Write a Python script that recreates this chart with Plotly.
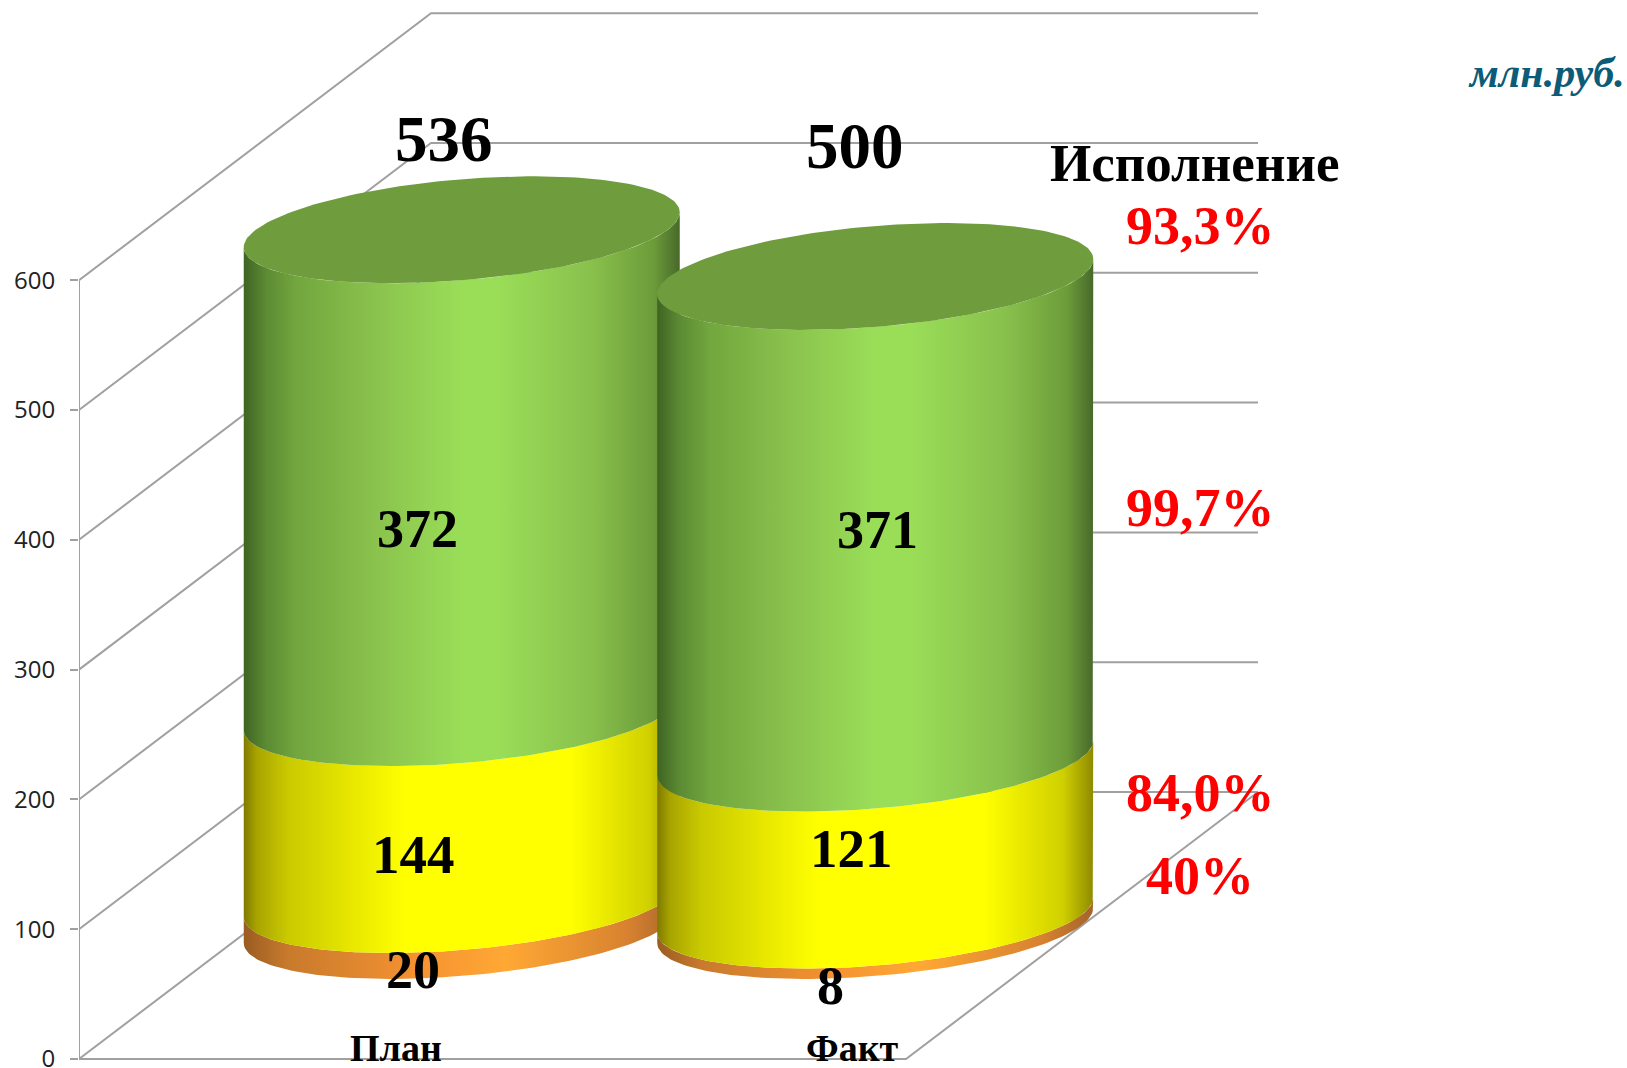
import numpy as np
import plotly.graph_objects as go

# ---- data ----
categories = ["План", "Факт"]
orange = [20, 8]
yellow = [144, 121]
green = [372, 371]
totals = [536, 500]
y_ticks = [0, 100, 200, 300, 400, 500, 600]
heading = "Исполнение"
percent_labels = ["93,3%", "99,7%", "84,0%", "40%"]
unit_label = "млн.руб."

# ---- pseudo-3D geometry (oblique projection), px per axis unit ----
W, H = 1627, 1068
LEFT, ZERO_PX = 79.0, 1059.0
PX_PER_CAT, PX_PER_VAL = 413.5, 1.298
DEPTH_X, DEPTH_Y = 352 / PX_PER_CAT, 267 / PX_PER_VAL
CYL_DEPTH = 0.5
A, K, B = 218 / PX_PER_CAT, 17.5 / PX_PER_VAL, 50.5 / PX_PER_VAL
GRID = "#a0a0a0"


def proj(cat, val, depth):
    return cat + depth * DEPTH_X, val + depth * DEPTH_Y


def gx(px):
    return (px - LEFT) / PX_PER_CAT


def gy(py):
    return (ZERO_PX - py) / PX_PER_VAL


fig = go.Figure()


def line(points):
    xs, ys = zip(*[proj(*p) for p in points])
    fig.add_trace(go.Scatter(x=xs, y=ys, mode="lines", cliponaxis=False,
                             line=dict(color=GRID, width=2), hoverinfo="skip"))


ncat = len(categories)
for v in y_ticks:
    line([(0, v, 0), (0, v, 1), (ncat, v, 1)])
line([(0, 0, 0), (0, 600, 0)])
line([(0, 0, 0), (ncat, 0, 0), (ncat, 0, 1)])

SCALES = {
    "o": [[0, "#9a5c22"], [0.1, "#c87a2c"], [0.4, "#f59231"], [0.6, "#ffa834"],
          [0.88, "#d88230"], [1, "#a5642a"]],
    "y": [[0, "#7f7a00"], [0.03, "#a8a400"], [0.1, "#c9c900"], [0.25, "#e8e800"],
          [0.37, "#ffff00"], [0.75, "#ffff00"], [0.93, "#d0d000"], [1, "#8f8a00"]],
    "g": [[0, "#3f6423"], [0.05, "#5b8a33"], [0.12, "#72a63e"], [0.3, "#8ac24d"],
          [0.5, "#9ade58"], [0.58, "#9ade58"], [0.8, "#88c04c"], [0.94, "#6c9c3a"],
          [1, "#48692a"]],
}
t_front = np.linspace(np.pi, 2 * np.pi, 90)
t_full = np.linspace(0, 2 * np.pi, 180)


def rim(cat, val, t):
    cx, cy = proj(cat, val, CYL_DEPTH)
    return cx + A * np.cos(t), cy + K * np.cos(t) + B * np.sin(t)


for i in range(ncat):
    c = i + 0.5
    base = 0
    for vals, key in ((orange, "o"), (yellow, "y"), (green, "g")):
        top = base + vals[i]
        x0, y0 = rim(c, base, t_front)
        x1, y1 = rim(c, top, t_front)
        fig.add_trace(go.Scatter(
            x=np.r_[x1, x0[::-1], x1[0]], y=np.r_[y1, y0[::-1], y1[0]],
            mode="lines", fill="toself", line=dict(width=0), hoverinfo="skip",
            fillgradient=dict(type="horizontal", colorscale=SCALES[key]),
        ))
        base = top
    xt, yt = rim(c, base, t_full)
    fig.add_trace(go.Scatter(x=xt, y=yt, mode="lines", fill="toself",
                             line=dict(width=0), fillcolor="#6f9c3d", hoverinfo="skip"))


def label(text, px, py, size, color="black", italic=False):
    fig.add_annotation(
        x=gx(px), y=gy(py), text=text, showarrow=False, xanchor="center", yanchor="middle",
        font=dict(family="Liberation Serif", size=size, color=color,
                  weight="bold", style="italic" if italic else "normal"),
    )


label(str(totals[0]), 444, 139, 65)
label(str(totals[1]), 855, 146, 65)
label(str(green[0]), 417, 529, 54)
label(str(green[1]), 877, 530, 54)
label(str(yellow[0]), 413, 854, 55)
label(str(yellow[1]), 851, 848, 55)
label(str(orange[0]), 413, 970, 54)
label(str(orange[1]), 830, 986, 54)
label(categories[0], 396, 1048, 38)
label(categories[1], 852, 1048, 38)
label(heading, 1194, 163, 53)
for txt, py in zip(percent_labels, (226, 508, 793, 876)):
    label(txt, 1200, py, 54, "#ff0000")
label(unit_label, 1546, 73, 42, "#0b5c78", True)

fig.update_layout(
    width=W, height=H, showlegend=False, plot_bgcolor="white", paper_bgcolor="white",
    margin=dict(l=LEFT, r=0, t=0, b=0, autoexpand=False),
    xaxis=dict(range=[0, (W - LEFT) / PX_PER_CAT], visible=False, automargin=False),
    yaxis=dict(
        range=[gy(H), gy(0)], tickvals=y_ticks, ticks="outside", ticklen=8, tickwidth=2,
        tickcolor=GRID, showgrid=False, zeroline=False, showline=False, automargin=False,
        ticklabelstandoff=10, ticklabeloverflow="allow",
        tickfont=dict(family="Open Sans", size=24, color="#222222"),
    ),
)

fig.write_html("out.html", config={"displayModeBar": False},
               post_script="document.body.style.margin='0';")
